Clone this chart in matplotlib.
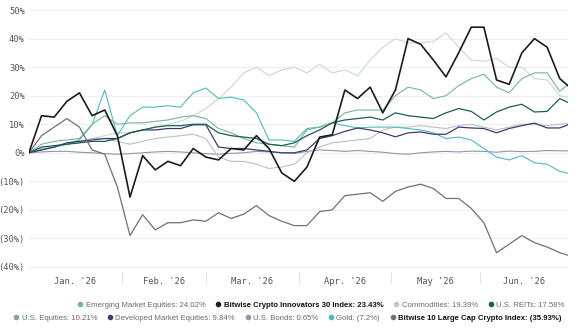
import numpy as np
import pandas as pd
import matplotlib
matplotlib.use("Agg")
import matplotlib.pyplot as plt
from matplotlib.lines import Line2D

# trading days, sampled every third session (plus the last one)
days = pd.bdate_range("2026-01-01", "2026-06-30")
idx = list(range(0, len(days), 3)) + [len(days) - 1]

# cumulative returns (%)
bitw30 = [0, 13, 12.5, 18, 21, 13, 15, 6, -15.5, -1, -6, -3, -4.5, 1.5, -1.5, -2.5,
          1.5, 1, 6, 1.5, -7, -10, -5, 5.5, 6.3, 22, 19, 23, 14, 22, 40, 38, 32.5,
          26.6, 35, 44, 44, 25.5, 24, 35, 40, 37, 26, 23.43]
bitw10 = [0, 6, 9, 12, 9, 1, -0.5, -12, -29, -21.7, -27, -24.5, -24.5, -23.5, -24,
          -21, -23, -21.5, -18.5, -22, -24, -25.5, -25.5, -20.6, -20, -15, -14.5, -14,
          -17, -13.5, -12, -11, -12.5, -16, -16, -19.5, -24.5, -35, -32, -29, -31.5,
          -33, -35, -35.93]
commodities = [0, 1, 2, 3, 4, 5, 6, 7, 7, 8, 9, 10, 11, 13, 15.5, 19, 23, 28, 30, 27,
               29, 30, 28, 31, 28, 29, 27, 32.5, 37, 40, 38.5, 38.5, 39, 42, 37, 32.5,
               32, 33, 30, 30, 26, 25.5, 20, 19.39]
gold = [0, 1, 2, 3, 4.5, 9.8, 22, 6, 13, 16, 16, 16.5, 16, 21, 22.7, 19, 19.5, 18.5,
        14, 4.5, 4.5, 4, 8.5, 9, 10.5, 9.5, 8.7, 9, 9, 9, 8.5, 8, 7, 5, 5.5, 4.5, 1.5,
        -1.5, -2.5, -1, -3.5, -4, -6.5, -7.21]
emerging = [0, 3, 4, 4.5, 5, 10, 13, 10, 10.5, 10.5, 11, 11.5, 12.5, 13, 12, 8.5, 7, 5,
            3.5, 3, 2.5, 2, 8, 9, 10.5, 14, 15, 15, 15, 20, 23, 22, 19, 20, 23.5, 26,
            27.5, 23, 21, 26, 28, 28, 21.5, 24.02]
reits = [0, 2, 2.5, 3, 3.5, 4, 4, 5, 7, 8, 9, 9.5, 9.5, 10, 10, 7, 6, 5.5, 5, 3, 2.5,
         3.5, 6, 8, 10.5, 11.5, 12, 12.5, 11.5, 14, 13, 12.5, 12, 14, 15.5, 14.5, 11.5,
         14.3, 16, 17, 14.3, 14.5, 19, 17.58]
developed = [0, 1, 2, 3.5, 4, 4.5, 5, 5, 7, 8, 8, 8.5, 8.5, 9.8, 9.8, 2, 1.5, 1.5, 1,
             0.5, 0, 0, 1, 5, 6, 7.5, 8.7, 8, 7, 5.6, 7, 7.3, 6.5, 6.5, 9, 8.7, 8.5, 7,
             8.5, 9.5, 10.4, 8.7, 8.7, 9.84]
us_eq = [0, 1.5, 2, 3, 3.5, 5, 5, 4, 3, 4, 5, 5.5, 6, 6.5, 5, -1.5, -3, -3, -4, -5.5,
         -5, -4, 0, 2, 3.5, 4, 4.5, 5, 8, 9, 9, 9.5, 9, 8.5, 9.5, 10, 9, 8, 9, 10, 10,
         9.5, 10, 10.21]
bonds = [0, 0.3, 0.5, 0.5, 0.2, 0, -0.3, -0.5, -0.3, 0, 0.3, 0.5, 0.3, 0, -0.3, -0.5,
         -0.2, 0, 0.5, 0.3, 0, -0.2, 0.5, 1, 0.8, 0.5, 0.8, 0.5, 0.2, -0.3, -0.5, 0,
         0.3, 0.5, 0.3, 0.6, 0.5, 0.2, 0.6, 0.4, 0.5, 0.8, 0.7, 0.65]

yticks = [50, 40, 30, 20, 10, 0, -10, -20, -30, -40]
ylabels = ["50%", "40%", "30%", "20%", "10%", "0%", "(10%)", "(20%)", "(30%)", "(40%)"]

fig = plt.figure(figsize=(5.78, 3.28), dpi=100)
ax = fig.add_axes([0.050, 0.173, 0.933, 0.805])

# (label, data, colour, width, bold) -- drawing order back to front
series = [
    ("Commodities: 19.39%", commodities, "#cbd8d1", 0.8, False),
    ("U.S. Bonds: 0.65%", bonds, "#9593ad", 0.8, False),
    ("U.S. Equities: 10.21%", us_eq, "#b3c4c4", 0.8, False),
    ("Gold: (7.2%)", gold, "#4dbcbc", 0.8, False),
    ("Emerging Market Equities: 24.02%", emerging, "#72b895", 0.8, False),
    ("Developed Market Equities: 9.84%", developed, "#3d3c70", 0.9, False),
    ("U.S. REITs: 17.58%", reits, "#1f5c58", 0.9, False),
    ("Bitwise 10 Large Cap Crypto Index: (35.93%)", bitw10, "#717171", 0.9, True),
    ("Bitwise Crypto Innovators 30 Index: 23.43%", bitw30, "#1c1c1c", 1.2, True),
]
styles = {}
for lab, vals, col, lw, bold in series:
    ax.plot(idx, vals, color=col, lw=lw)
    styles[lab] = (col, bold)

ax.set_ylim(-41.5, 51)
ax.set_xlim(0, len(days) - 1)
ax.set_yticks(yticks)
ax.set_yticklabels(ylabels)
ax.grid(axis="y", color="#efefef", lw=0.8)
ax.set_axisbelow(True)

# month labels centred, faint ticks at month boundaries
months = days.month
starts = [i for i in range(1, len(days)) if months[i] != months[i - 1]]
bounds = [0] + starts + [len(days) - 1]
centers = [(bounds[m] + bounds[m + 1]) / 2 for m in range(len(bounds) - 1)]
mlabels = [d.strftime("%b. '%y").replace("May.", "May") for d in
           [days[b] for b in bounds[:-1]]]
ax.set_xticks(centers)
ax.set_xticklabels(mlabels)
ax.set_xticks(starts, minor=True)
ax.tick_params(axis="x", which="major", length=0, pad=4)
ax.tick_params(axis="x", which="minor", length=9, color="#e6e6e6", width=0.8)
ax.tick_params(axis="y", length=0, pad=3)
for t in ax.get_xticklabels() + ax.get_yticklabels():
    t.set_fontfamily("DejaVu Sans Mono")
    t.set_fontsize(6.3)
    t.set_color("#555555")
for s in ax.spines.values():
    s.set_visible(False)

row1 = ["Emerging Market Equities: 24.02%", "Bitwise Crypto Innovators 30 Index: 23.43%",
        "Commodities: 19.39%", "U.S. REITs: 17.58%"]
row2 = ["U.S. Equities: 10.21%", "Developed Market Equities: 9.84%",
        "U.S. Bonds: 0.65%", "Gold: (7.2%)", "Bitwise 10 Large Cap Crypto Index: (35.93%)"]
legend_cols = {"U.S. Equities: 10.21%": "#86a4a4", "Commodities: 19.39%": "#b9cdc3"}


def add_row(labels, x, y):
    hs = [Line2D([], [], ls="", marker="o", ms=3.0,
                 color=legend_cols.get(l, styles[l][0])) for l in labels]
    lg = fig.legend(hs, labels, loc="center", bbox_to_anchor=(x, y), ncol=len(labels),
                    frameon=False, handlelength=0.5, handletextpad=0.45,
                    columnspacing=1.4, borderpad=0, borderaxespad=0,
                    prop={"family": "Liberation Sans", "size": 5.6})
    for t, l in zip(lg.get_texts(), labels):
        if styles[l][1]:
            t.set_fontweight("bold")
            t.set_color("#111111")
        else:
            t.set_color("#6a6a6a")
    return lg


add_row(row1, 321.5 / 578, 1 - 305 / 328)
add_row(row2, 288 / 578, 1 - 318 / 328)

fig.savefig("out.png", dpi=100)
